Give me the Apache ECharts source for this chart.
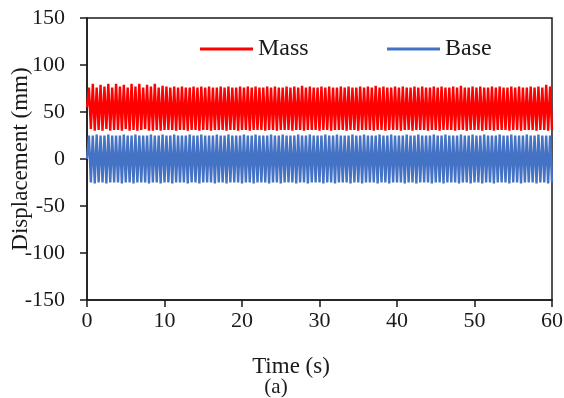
<!DOCTYPE html>
<html>
<head>
<meta charset="utf-8">
<style>
  html, body { margin: 0; padding: 0; background: #fff; }
  #chart { width: 564px; height: 398px; }
</style>
<script src="https://cdn.jsdelivr.net/npm/echarts@6/dist/echarts.min.js"></script>
</head>
<body>
<div id="chart"></div>
<script>
// Sampling step of the records (s): one sample per half cycle of the 2 Hz motion
const STEP = 0.25;

// Axis ticks
const xTicks = [0, 10, 20, 30, 40, 50, 60];
const yTicks = [-150, -100, -50, 0, 50, 100, 150];

// Mass displacement (mm): start value, then crest and trough of each cycle
const massStart = 55;
const massPeaks = [
  76, 80, 76, 79, 77, 80, 76, 80, 77, 79, 76, 80, 77, 80, 76, 79, 77, 80, 76, 78,
  77, 76, 77, 76, 77, 76, 76, 77, 76, 77, 76, 77, 76, 76, 77, 76, 77, 76, 76, 77,
  76, 77, 76, 77, 76, 76, 77, 76, 77, 76, 76, 77, 76, 77, 76, 78, 76, 77, 76, 76,
  77, 76, 77, 76, 76, 77, 76, 77, 76, 76, 77, 76, 77, 76, 78, 76, 77, 76, 76, 77,
  76, 77, 76, 76, 77, 76, 77, 76, 76, 77, 76, 77, 76, 76, 77, 76, 78, 76, 76, 77,
  76, 77, 76, 76, 77, 76, 77, 76, 76, 77, 76, 77, 76, 76, 77, 76, 77, 76, 79, 77
];
const massTroughs = [
  32, 30, 31, 30, 32, 30, 31, 31, 30, 32, 30, 31, 30, 31, 32, 30, 30, 31, 30, 31,
  31, 31, 30, 31, 31, 30, 31, 31, 30, 31, 31, 30, 31, 31, 31, 30, 31, 31, 30, 31,
  31, 30, 31, 31, 31, 30, 31, 31, 30, 31, 31, 31, 30, 31, 31, 30, 31, 31, 31, 30,
  31, 31, 30, 31, 31, 31, 30, 31, 31, 30, 31, 31, 31, 30, 31, 31, 30, 31, 31, 31,
  30, 31, 31, 30, 31, 31, 31, 30, 31, 31, 30, 31, 31, 31, 30, 31, 31, 30, 31, 31,
  31, 30, 31, 31, 30, 31, 31, 31, 30, 31, 31, 30, 31, 31, 31, 30, 31, 31, 30, 31
];

// Base displacement (mm): start value, then crest and trough of each cycle
const baseStart = 0;
const basePeaks = [
  25, 25, 26, 25, 25, 26, 25, 25, 25, 26, 25, 25, 26, 25, 25, 25, 26, 25, 25, 26,
  25, 25, 26, 25, 25, 25, 26, 25, 25, 26, 25, 25, 25, 26, 25, 25, 26, 25, 25, 25,
  26, 25, 25, 26, 25, 25, 25, 26, 25, 25, 26, 25, 25, 25, 26, 25, 25, 26, 25, 25,
  25, 26, 25, 25, 26, 25, 25, 25, 26, 25, 25, 26, 25, 25, 25, 26, 25, 25, 26, 25,
  25, 25, 26, 25, 25, 26, 25, 25, 25, 26, 25, 25, 26, 25, 25, 25, 26, 25, 25, 26,
  25, 25, 26, 25, 25, 25, 26, 25, 25, 26, 25, 25, 25, 26, 25, 25, 26, 25, 25, 25
];
const baseTroughs = [
  -25, -26, -25, -25, -26, -25, -25, -25, -26, -25, -25, -26, -25, -25, -25, -26, -25, -25, -26, -25,
  -25, -26, -25, -25, -25, -26, -25, -25, -26, -25, -25, -25, -26, -25, -25, -26, -25, -25, -25, -26,
  -25, -25, -26, -25, -25, -25, -26, -25, -25, -26, -25, -25, -25, -26, -25, -25, -26, -25, -25, -25,
  -26, -25, -25, -26, -25, -25, -25, -26, -25, -25, -26, -25, -25, -25, -26, -25, -25, -26, -25, -25,
  -25, -26, -25, -25, -26, -25, -25, -25, -26, -25, -25, -26, -25, -25, -25, -26, -25, -25, -26, -25,
  -25, -26, -25, -25, -26, -25, -25, -25, -26, -25, -25, -26, -25, -25, -25, -26, -25, -25, -26, -25
];

// Interleave crests and troughs into [time, value] pairs on the sampling grid
function buildSeries(start, peaks, troughs) {
  const pts = [[0, start]];
  for (let i = 0; i < peaks.length; i++) {
    pts.push([(2 * i + 1) * STEP, peaks[i]]);
    pts.push([(2 * i + 2) * STEP, troughs[i]]);
  }
  return pts;
}

const massData = buildSeries(massStart, massPeaks, massTroughs);
const baseData = buildSeries(baseStart, basePeaks, baseTroughs);

const FONT = '"Liberation Serif", "DejaVu Serif", serif';
const INK = '#1a1a1a';

const chart = echarts.init(document.getElementById('chart'), null, { renderer: 'canvas' });

const legendCommon = {
  top: 32,
  icon: 'rect',
  itemWidth: 53,
  itemHeight: 3,
  itemGap: 0,
  textStyle: { fontFamily: FONT, fontSize: 24, color: INK },
  selectedMode: false
};

chart.setOption({
  animation: false,
  backgroundColor: '#fff',
  grid: {
    left: 87, right: 12, top: 18, bottom: 98,
    outerBoundsMode: 'none',
    containLabel: false,
    show: true, borderColor: INK, borderWidth: 1.5, backgroundColor: 'transparent'
  },
  legend: [
    Object.assign({ left: 195, data: ['Mass'] }, legendCommon),
    Object.assign({ left: 382, data: ['Base'] }, legendCommon)
  ],
  xAxis: {
    type: 'value',
    min: xTicks[0], max: xTicks[xTicks.length - 1], interval: xTicks[1] - xTicks[0],
    axisLine: { show: true, onZero: false, lineStyle: { color: INK, width: 1.5 } },
    axisTick: { show: true, inside: false, length: 7, lineStyle: { color: INK, width: 1.5 } },
    axisLabel: { margin: 10, fontFamily: FONT, fontSize: 22, color: INK },
    splitLine: { show: false }
  },
  yAxis: {
    type: 'value',
    min: yTicks[0], max: yTicks[yTicks.length - 1], interval: yTicks[1] - yTicks[0],
    name: 'Displacement (mm)',
    nameLocation: 'middle',
    nameGap: 55,
    nameMoveOverlap: false,
    nameTextStyle: { fontFamily: FONT, fontSize: 23, color: INK },
    axisLine: { show: true, onZero: false, lineStyle: { color: INK, width: 1.5 } },
    axisTick: { show: true, inside: false, length: 7, lineStyle: { color: INK, width: 1.5 } },
    axisLabel: { margin: 22, fontFamily: FONT, fontSize: 22, color: INK },
    splitLine: { show: false }
  },
  graphic: [
    {
      type: 'text', x: 291, y: 367,
      style: { text: 'Time (s)', font: '23px ' + FONT, fill: INK, align: 'center', verticalAlign: 'middle' }
    },
    {
      type: 'text', x: 276, y: 387,
      style: { text: '(a)', font: '21px ' + FONT, fill: INK, align: 'center', verticalAlign: 'middle' }
    }
  ],
  series: [
    {
      name: 'Mass', type: 'line', data: massData,
      showSymbol: false, symbol: 'none',
      lineStyle: { color: '#ff0000', width: 2.4 },
      itemStyle: { color: '#ff0000' }
    },
    {
      name: 'Base', type: 'line', data: baseData,
      showSymbol: false, symbol: 'none',
      lineStyle: { color: '#4472c4', width: 2.4 },
      itemStyle: { color: '#4472c4' }
    }
  ]
});
</script>
</body>
</html>
